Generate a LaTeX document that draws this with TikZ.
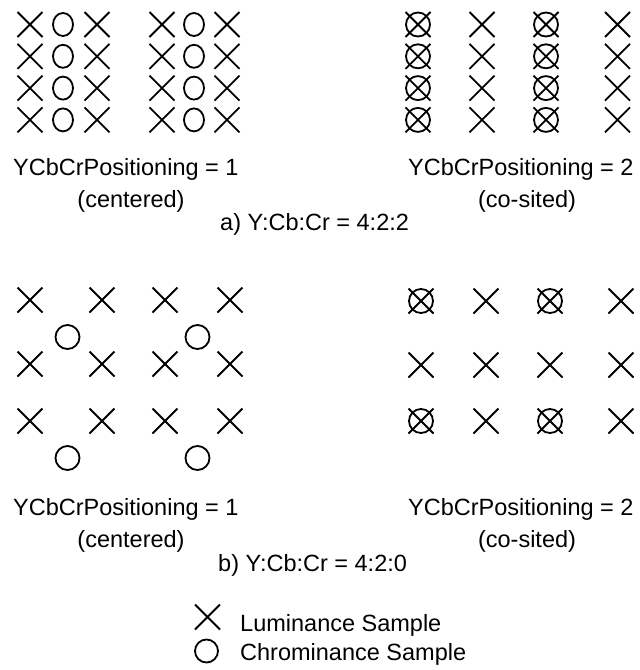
\documentclass[tikz,border=0pt]{standalone}
\usepackage{fontspec}
\setmainfont{Liberation Sans}
\begin{document}
\begin{tikzpicture}[x=1pt,y=-1pt,
  sym/.style={line width=1.8pt,black},
  lbl/.style={inner sep=0pt,font=\fontsize{23.5}{28}\selectfont},
  lum/.pic={\draw[sym] (-12.5,-12.5) -- (12.5,12.5) (-12.5,12.5) -- (12.5,-12.5);},
  chromoval/.pic={\draw[sym] (0,0) ellipse [x radius=10,y radius=11.5];},
  chrom/.pic={\draw[sym] (0,0) circle [radius=12];},
  both/.pic={\draw[sym] (0,0) circle [radius=12];
             \draw[sym] (-12.5,-12.5) -- (12.5,12.5) (-12.5,12.5) -- (12.5,-12.5);}
]
\useasboundingbox (0,0) rectangle (640,670);

% ---- a) 4:2:2 centered
\foreach \y in {24.5,56.3,88.1,119.9}{
  \foreach \x in {30,97,162,227}{ \pic at (\x,\y) {lum}; }
  \foreach \x in {63,194}{ \pic at (\x,\y) {chromoval}; }
}
% ---- a) 4:2:2 co-sited
\foreach \y in {24.5,56.3,88.1,119.9}{
  \foreach \x in {418,546}{ \pic at (\x,\y) {both}; }
  \foreach \x in {482,617.5}{ \pic at (\x,\y) {lum}; }
}
\node[lbl,anchor=base west] (a1) at (13,175) {YCbCrPositioning = 1};
\node[lbl,anchor=base] (a1s) at (131,207) {(centered)};
\node[lbl,anchor=base west] (a2) at (408,175) {YCbCrPositioning = 2};
\node[lbl,anchor=base] (a2s) at (527,207) {(co-sited)};
\node[lbl,anchor=base west] (acap) at (220,230) {a) Y:Cb:Cr = 4:2:2};

% ---- b) 4:2:0 centered
\foreach \y in {300,364,421}{
  \foreach \x in {30,102,165,230}{ \pic at (\x,\y) {lum}; }
}
\foreach \y in {337,458}{
  \foreach \x in {67.5,197.5}{ \pic at (\x,\y) {chrom}; }
}
% ---- b) 4:2:0 co-sited
\foreach \y in {301,421}{
  \foreach \x in {421,550}{ \pic at (\x,\y) {both}; }
  \foreach \x in {486,621}{ \pic at (\x,\y) {lum}; }
}
\foreach \x in {421,486,550,621}{ \pic at (\x,365) {lum}; }

\node[lbl,anchor=base west] (b1) at (13,515) {YCbCrPositioning = 1};
\node[lbl,anchor=base] (b1s) at (131,547) {(centered)};
\node[lbl,anchor=base west] (b2) at (408,515) {YCbCrPositioning = 2};
\node[lbl,anchor=base] (b2s) at (527,547) {(co-sited)};
\node[lbl,anchor=base west] (bcap) at (218,571) {b) Y:Cb:Cr = 4:2:0};

% ---- legend
\pic at (207.5,617) {lum};
\draw[sym] (206.5,651) circle [radius=11.5];
\node[lbl,anchor=base west] (leglum) at (240,631) {Luminance Sample};
\node[lbl,anchor=base west] (legchr) at (240,660) {Chrominance Sample};
\end{tikzpicture}
\end{document}
